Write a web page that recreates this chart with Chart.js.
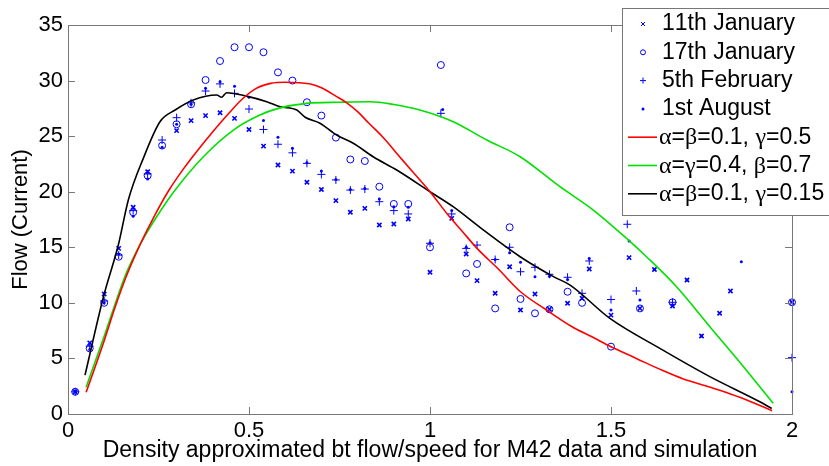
<!DOCTYPE html>
<html>
<head>
<meta charset="utf-8">
<script src="https://cdn.jsdelivr.net/npm/chart.js@4.4.0/dist/chart.umd.min.js"></script>
<style>
  html, body { margin: 0; padding: 0; background: #fff; }
</style>
</head>
<body>
<canvas id="chart" width="829" height="466"></canvas>
<script>
// Measured flow/density points, one pair of arrays per day
const jan11X = [0.02, 0.06, 0.10, 0.14, 0.18, 0.22, 0.30, 0.34, 0.38, 0.42, 0.46, 0.50, 0.54, 0.58, 0.62, 0.66, 0.70, 0.74, 0.78, 0.82, 0.86, 0.90, 0.94, 1.00, 1.06, 1.10, 1.13, 1.18, 1.22, 1.25, 1.29, 1.33, 1.38, 1.42, 1.44, 1.50, 1.55, 1.58, 1.62, 1.67, 1.71, 1.75, 1.80, 1.83, 2.00];
const jan11Y = [2.0, 6.4, 10.8, 14.9, 18.6, 21.8, 25.5, 26.4, 26.85, 27.1, 26.6, 25.6, 24.1, 22.4, 21.85, 20.85, 20.2, 19.2, 18.15, 18.5, 17.0, 17.1, 17.55, 12.75, 17.6, 14.4, 12.0, 10.86, 13.25, 9.36, 10.8, 9.42, 9.96, 10.4, 13.05, 8.9, 14.07, 9.5, 13.0, 9.72, 12.06, 7.02, 9.06, 11.07, 10.05];

const jan17X = [0.02, 0.06, 0.10, 0.14, 0.18, 0.22, 0.26, 0.30, 0.34, 0.38, 0.42, 0.46, 0.50, 0.54, 0.58, 0.62, 0.66, 0.70, 0.74, 0.78, 0.82, 0.86, 0.90, 0.94, 1.00, 1.03, 1.10, 1.13, 1.18, 1.22, 1.25, 1.29, 1.33, 1.38, 1.42, 1.50, 1.58, 1.67, 2.00];
const jan17Y = [2.0, 5.9, 10.0, 14.15, 18.15, 21.45, 24.15, 26.07, 27.87, 30.05, 31.76, 33.0, 33.0, 32.55, 30.74, 30.0, 28.05, 26.85, 24.87, 22.9, 22.76, 20.45, 18.9, 18.9, 15.0, 31.4, 12.65, 13.5, 9.5, 16.8, 10.35, 9.06, 9.42, 11.0, 10.0, 6.06, 9.5, 10.05, 10.05];

const feb5X = [0.02, 0.06, 0.10, 0.14, 0.18, 0.22, 0.26, 0.30, 0.34, 0.38, 0.42, 0.46, 0.50, 0.54, 0.58, 0.62, 0.66, 0.70, 0.74, 0.78, 0.82, 0.86, 0.90, 0.94, 1.00, 1.03, 1.06, 1.10, 1.13, 1.18, 1.22, 1.25, 1.29, 1.33, 1.38, 1.42, 1.44, 1.50, 1.545, 1.57, 1.67, 2.00];
const feb5Y = [2.0, 6.1, 10.17, 14.3, 18.3, 21.6, 24.65, 26.66, 28.0, 29.06, 29.7, 28.85, 27.44, 25.6, 24.27, 23.5, 22.55, 21.56, 21.06, 20.15, 20.24, 19.1, 18.3, 18.0, 15.36, 27.05, 18.0, 14.9, 15.2, 13.9, 15.0, 12.8, 13.2, 12.57, 12.3, 10.86, 13.77, 10.3, 17.07, 11.07, 10.05, 5.07];

const aug1X = [0.02, 0.06, 0.10, 0.14, 0.18, 0.22, 0.26, 0.30, 0.34, 0.38, 0.42, 0.46, 0.50, 0.54, 0.58, 0.62, 0.66, 0.70, 0.74, 0.78, 0.82, 0.86, 0.90, 0.94, 1.00, 1.035, 1.06, 1.10, 1.18, 1.22, 1.25, 1.29, 1.33, 1.38, 1.44, 1.50, 1.55, 1.58, 1.62, 1.71, 1.75, 1.86, 2.00, 2.00];
const aug1Y = [2.0, 5.8, 10.0, 14.4, 17.8, 21.15, 24.0, 26.07, 27.87, 29.3, 29.9, 29.5, 28.5, 26.4, 24.9, 23.9, 22.6, 21.86, 21.1, 20.2, 20.3, 19.34, 18.65, 18.6, 15.4, 27.4, 18.3, 15.0, 13.9, 14.5, 13.65, 12.36, 12.4, 12.1, 14.0, 9.36, 15.57, 10.26, 13.0, 12.06, 7.02, 13.7, 10.05, 2.0];

// Simulated curves
const redX = [0.05, 0.08, 0.10, 0.13, 0.16, 0.20, 0.24, 0.28, 0.32, 0.36, 0.40, 0.44, 0.48, 0.52, 0.56, 0.60, 0.64, 0.67, 0.70, 0.74, 0.77, 0.80, 0.83, 0.87, 0.92, 0.96, 1.00, 1.05, 1.09, 1.13, 1.19, 1.25, 1.32, 1.39, 1.45, 1.50, 1.57, 1.64, 1.70, 1.77, 1.83, 1.88, 1.945];
const redY = [1.95, 4.7, 6.6, 9.6, 12.3, 15.3, 17.9, 20.2, 22.1, 23.8, 25.4, 26.9, 28.3, 29.3, 29.75, 29.85, 29.8, 29.7, 29.35, 28.6, 28.0, 27.2, 26.2, 24.9, 23.0, 21.5, 20.0, 17.9, 16.4, 14.9, 13.0, 11.0, 9.4, 7.9, 6.9, 6.05, 5.0, 3.95, 3.15, 2.45, 1.8, 1.2, 0.3];

const greenX = [0.05, 0.10, 0.16, 0.20, 0.24, 0.296, 0.374, 0.457, 0.53, 0.581, 0.659, 0.75, 0.834, 0.90, 0.972, 1.064, 1.157, 1.249, 1.359, 1.451, 1.543, 1.598, 1.681, 1.773, 1.866, 1.948];
const greenY = [2.4, 7.0, 12.6, 15.3, 17.5, 20.15, 23.15, 25.55, 26.9, 27.5, 27.95, 28.05, 28.1, 27.85, 27.35, 26.3, 24.65, 23.15, 20.45, 18.35, 15.8, 14.15, 11.45, 7.86, 4.26, 0.96];

const blackX = [0.047, 0.098, 0.139, 0.167, 0.208, 0.254, 0.296, 0.346, 0.411, 0.424, 0.438, 0.493, 0.549, 0.586, 0.632, 0.655, 0.696, 0.742, 0.788, 0.843, 0.908, 1.0, 1.064, 1.147, 1.249, 1.341, 1.387, 1.497, 1.635, 1.773, 1.911, 1.944];
const blackY = [3.5, 10.55, 15.2, 19.3, 23.0, 26.3, 27.35, 28.25, 28.7, 28.5, 28.9, 28.6, 28.1, 27.65, 27.35, 26.7, 26.16, 25.1, 24.36, 23.15, 21.95, 20.0, 18.65, 16.56, 14.15, 12.36, 11.6, 8.6, 5.9, 3.36, 1.1, 0.5];

const seriesLabels = ['11th January', '17th January', '5th February', '1st August',
                      'α=β=0.1, γ=0.5', 'α=γ=0.4, β=0.7', 'α=β=0.1, γ=0.15'];
const xTickLabels = ['0', '0.5', '1', '1.5', '2'];
const yTickLabels = ['0', '5', '10', '15', '20', '25', '30', '35'];

const BLUE = 'rgb(0,0,255)';
const lineColors = ['rgb(255,0,0)', 'rgb(0,225,0)', 'rgb(0,0,0)'];
const FONT = "'Liberation Sans', Arial, sans-serif";
const SERIF = "'Liberation Serif', 'Times New Roman', serif";

const toPoints = (xs, ys) => xs.map((x, i) => ({ x: x, y: ys[i] }));

const markerSet = (label, xs, ys, style, radius, fill, width) => ({
    label: label,
    data: toPoints(xs, ys),
    showLine: false,
    pointStyle: style,
    pointRadius: radius,
    pointBorderColor: BLUE,
    pointBackgroundColor: fill,
    pointBorderWidth: width,
    clip: false,
    order: 2
});

const curveSet = (label, xs, ys, color) => ({
    label: label,
    data: toPoints(xs, ys),
    showLine: true,
    borderColor: color,
    borderWidth: 1.6,
    pointRadius: 0,
    cubicInterpolationMode: 'monotone',
    fill: false,
    order: 1
});

// Matlab style box with inward ticks on all four sides
const boxPlugin = {
    id: 'matlabBox',
    afterDatasetsDraw(chart) {
        const { ctx, chartArea: a, scales } = chart;
        ctx.save();
        ctx.strokeStyle = '#777';
        ctx.lineWidth = 1;
        ctx.strokeRect(a.left + 0.5, a.top + 0.5, a.right - a.left, a.bottom - a.top);
        ctx.beginPath();
        scales.x.ticks.forEach((t) => {
            const px = Math.round(scales.x.getPixelForValue(t.value)) + 0.5;
            ctx.moveTo(px, a.bottom); ctx.lineTo(px, a.bottom - 7);
            ctx.moveTo(px, a.top); ctx.lineTo(px, a.top + 7);
        });
        scales.y.ticks.forEach((t) => {
            const py = Math.round(scales.y.getPixelForValue(t.value)) + 0.5;
            ctx.moveTo(a.left, py); ctx.lineTo(a.left + 7, py);
            ctx.moveTo(a.right, py); ctx.lineTo(a.right - 7, py);
        });
        ctx.stroke();
        ctx.restore();
    }
};

// Legend box sitting over the top right corner, like Matlab's
const legendPlugin = {
    id: 'matlabLegend',
    afterDraw(chart) {
        const ctx = chart.ctx;
        const left = 622, top = 8, bottom = 215, rowH = 28.3, firstRow = 24;
        ctx.save();
        ctx.fillStyle = '#fff';
        ctx.fillRect(left, top, 829 - left + 5, bottom - top);
        ctx.strokeStyle = '#777';
        ctx.lineWidth = 1;
        ctx.strokeRect(left + 0.5, top + 0.5, 829 - left + 5, bottom - top);

        chart.data.datasets.forEach((ds, i) => {
            const y = firstRow + i * rowH;
            const mx = 643;
            ctx.strokeStyle = BLUE;
            ctx.fillStyle = BLUE;
            ctx.lineWidth = 1;
            ctx.beginPath();
            if (i === 0) {
                ctx.moveTo(mx - 2, y - 2); ctx.lineTo(mx + 2, y + 2);
                ctx.moveTo(mx - 2, y + 2); ctx.lineTo(mx + 2, y - 2);
                ctx.stroke();
            } else if (i === 1) {
                ctx.arc(mx, y, 2.5, 0, Math.PI * 2);
                ctx.stroke();
            } else if (i === 2) {
                ctx.moveTo(mx - 3, y); ctx.lineTo(mx + 3, y);
                ctx.moveTo(mx, y - 3); ctx.lineTo(mx, y + 3);
                ctx.stroke();
            } else if (i === 3) {
                ctx.arc(mx, y, 1.5, 0, Math.PI * 2);
                ctx.fill();
            } else {
                ctx.strokeStyle = ds.borderColor;
                ctx.lineWidth = 1.6;
                ctx.moveTo(628, y); ctx.lineTo(657, y);
                ctx.stroke();
            }

            // text, Greek letters in a serif face
            let tx = i < 4 ? 662 : 659;
            ctx.fillStyle = '#000';
            ctx.textBaseline = 'middle';
            ctx.textAlign = 'left';
            for (const ch of ds.label) {
                const greek = /[α-ω]/.test(ch);
                ctx.font = greek ? '24px ' + SERIF : '23px ' + FONT;
                ctx.fillText(ch, tx, greek ? y + 1 : y);
                tx += ctx.measureText(ch).width;
            }
        });
        ctx.restore();
    }
};

new Chart(document.getElementById('chart'), {
    type: 'scatter',
    data: {
        datasets: [
            markerSet(seriesLabels[0], jan11X, jan11Y, 'crossRot', 3, BLUE, 1.6),
            markerSet(seriesLabels[1], jan17X, jan17Y, 'circle', 3.5, 'rgba(0,0,0,0)', 1),
            markerSet(seriesLabels[2], feb5X, feb5Y, 'cross', 4, BLUE, 1),
            markerSet(seriesLabels[3], aug1X, aug1Y, 'circle', 1.5, BLUE, 0),
            curveSet(seriesLabels[4], redX, redY, lineColors[0]),
            curveSet(seriesLabels[5], greenX, greenY, lineColors[1]),
            curveSet(seriesLabels[6], blackX, blackY, lineColors[2])
        ]
    },
    options: {
        responsive: false,
        animation: false,
        layout: { padding: { top: 25, right: 37, left: 0, bottom: 0 } },
        plugins: {
            legend: { display: false },
            tooltip: { enabled: false }
        },
        scales: {
            x: {
                type: 'linear',
                min: 0, max: 2,
                afterFit: (s) => { s.height = 52; },
                grid: { display: false, drawTicks: false },
                border: { display: false },
                ticks: {
                    stepSize: 0.5,
                    padding: 4,
                    color: '#000',
                    font: { family: FONT, size: 22 },
                    callback: (v, i) => xTickLabels[i]
                },
                title: {
                    display: true,
                    text: 'Density approximated bt flow/speed for M42 data and simulation',
                    color: '#000',
                    font: { family: FONT, size: 23 },
                    padding: { top: 0, bottom: 2 }
                }
            },
            y: {
                type: 'linear',
                min: 0, max: 35,
                afterFit: (s) => { s.width = 68; },
                grid: { display: false, drawTicks: false },
                border: { display: false },
                ticks: {
                    stepSize: 5,
                    padding: 5,
                    color: '#000',
                    font: { family: FONT, size: 22 },
                    callback: (v, i) => yTickLabels[i]
                },
                title: {
                    display: true,
                    text: 'Flow (Current)',
                    color: '#000',
                    font: { family: FONT, size: 22 },
                    padding: { top: 8, bottom: 0 }
                }
            }
        }
    },
    plugins: [boxPlugin, legendPlugin]
});
</script>
</body>
</html>
